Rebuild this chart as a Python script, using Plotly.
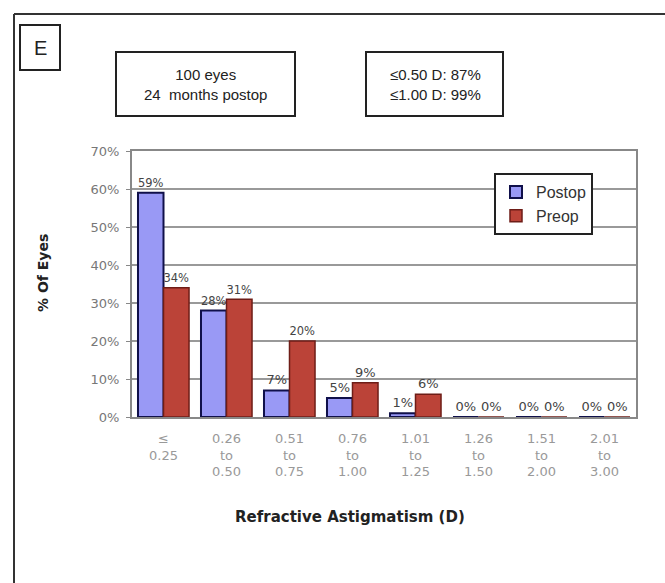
import plotly.graph_objects as go

# Astigmatism ranges (dioptres) and share of eyes in each range
categories = ["≤<br>0.25", "0.26<br>to<br>0.50", "0.51<br>to<br>0.75", "0.76<br>to<br>1.00",
              "1.01<br>to<br>1.25", "1.26<br>to<br>1.50", "1.51<br>to<br>2.00", "2.01<br>to<br>3.00"]
postop = [59, 28, 7, 5, 1, 0, 0, 0]
preop = [34, 31, 20, 9, 6, 0, 0, 0]
y_ticks = [0, 10, 20, 30, 40, 50, 60, 70]
y_tick_labels = ["0%", "10%", "20%", "30%", "40%", "50%", "60%", "70%"]

W, H = 665, 583


def px(x):
    return x / W


def py(y):
    return 1 - y / H


fig = go.Figure()
fig.add_trace(go.Bar(
    name="Postop", x=categories, y=postop,
    marker=dict(color="#9999f5", line=dict(color="#10104a", width=2)),
    text=[f"{v}%" for v in postop], textposition="outside",
    textfont=dict(size=13, color="#444", family="DejaVu Sans"),
    cliponaxis=False,
))
fig.add_trace(go.Bar(
    name="Preop", x=categories, y=preop,
    marker=dict(color="#bb4338", line=dict(color="#6e1d17", width=1.5)),
    text=[f"{v}%" for v in preop], textposition="outside",
    textfont=dict(size=13, color="#444", family="DejaVu Sans"),
    cliponaxis=False,
))

shapes = [
    # outer panel frame (top and left edges)
    dict(type="line", xref="paper", yref="paper", x0=px(14), x1=1.0, y0=py(14), y1=py(14),
         line=dict(color="#333", width=2)),
    dict(type="line", xref="paper", yref="paper", x0=px(14), x1=px(14), y0=py(14), y1=0,
         line=dict(color="#333", width=2)),
    # panel letter box
    dict(type="rect", xref="paper", yref="paper", x0=px(20), x1=px(60), y0=py(25), y1=py(70),
         line=dict(color="#222", width=2)),
    # info boxes
    dict(type="rect", xref="paper", yref="paper", x0=px(116), x1=px(295), y0=py(52), y1=py(116),
         line=dict(color="#222", width=2)),
    dict(type="rect", xref="paper", yref="paper", x0=px(366), x1=px(503), y0=py(52), y1=py(116),
         line=dict(color="#222", width=2)),
]


def label(text, x, y, size, family="Liberation Sans", color="#222", angle=0):
    return dict(text=text, x=px(x), y=py(y), xref="paper", yref="paper", showarrow=False,
                xanchor="center", yanchor="middle", textangle=angle,
                font=dict(size=size, family=family, color=color))


annotations = [
    label("E", 40, 48, 20),
    label("100 eyes<br>24  months postop", 205, 84, 15),
    label("≤0.50 D: 87%<br>≤1.00 D: 99%", 435, 84, 15),
    label("<b>Refractive Astigmatism (D)</b>", 350, 517, 15, family="DejaVu Sans"),
    label("<b>% Of Eyes</b>", 43, 273, 14, family="DejaVu Sans", angle=-90),
]

fig.update_layout(
    width=W, height=H,
    margin=dict(l=0, r=0, t=0, b=0),
    paper_bgcolor="white", plot_bgcolor="white",
    barmode="group", bargap=0.19, bargroupgap=0,
    font=dict(family="DejaVu Sans", color="#333"),
    shapes=shapes, annotations=annotations,
    legend=dict(
        x=px(494), y=py(173), xanchor="left", yanchor="top",
        bordercolor="#222", borderwidth=2, bgcolor="white",
        font=dict(size=16, family="Liberation Sans", color="#333"),
        itemwidth=30, tracegroupgap=0, entrywidth=115,
    ),
    xaxis=dict(
        domain=[px(132), px(636)], automargin=False,
        showline=True, mirror=True, linecolor="#888", linewidth=2,
        tickfont=dict(size=13, color="#999", family="DejaVu Sans"),
        ticks="", tickangle=0, ticklabelstandoff=8,
    ),
    yaxis=dict(
        domain=[py(417), py(151)], automargin=False,
        range=[0, 70], tickmode="array", tickvals=y_ticks, ticktext=y_tick_labels,
        showgrid=True, gridcolor="#999", gridwidth=1.5,
        showline=True, mirror=True, linecolor="#888", linewidth=2,
        ticks="outside", ticklen=4, tickcolor="#888", ticklabelstandoff=4,
        tickfont=dict(size=13, color="#777", family="DejaVu Sans"),
    ),
)

fig.write_html("out.html")
